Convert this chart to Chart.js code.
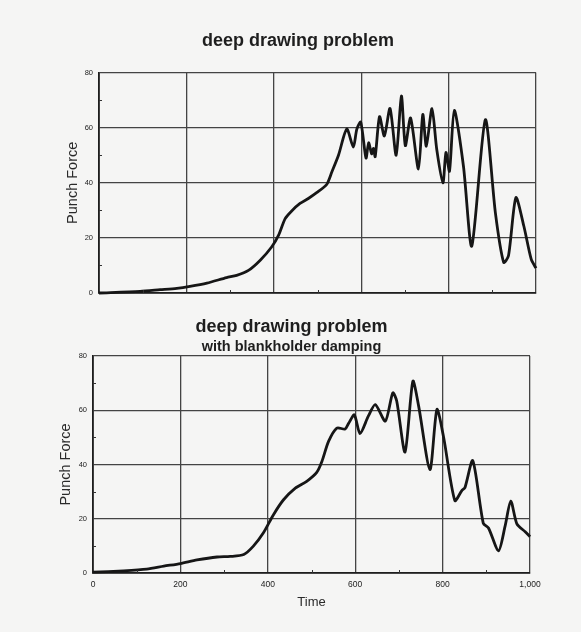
<!DOCTYPE html>
<html>
<head>
<meta charset="utf-8">
<script src="https://cdn.jsdelivr.net/npm/chart.js@4/dist/chart.umd.min.js"></script>
<style>
    body { margin: 0; background: #f5f5f4; }
    #wrap { position: relative; width: 581px; height: 632px; }
    canvas { position: absolute; left: 0; }
    #top { top: 0; }
    #bottom { top: 305px; }
</style>
</head>
<body>
<div id="wrap">
    <canvas id="top" width="581" height="305"></canvas>
    <canvas id="bottom" width="581" height="327"></canvas>
</div>
<script>
// punch force vs time
const topTime = [0, 94, 140, 178, 208, 247, 292, 315, 342, 369, 395, 411, 426, 441, 460, 479, 498, 521, 533, 548, 567, 582, 590, 599, 611, 617, 624, 628, 632, 642, 653, 666, 680, 692, 701, 713, 731, 741, 749, 762, 773, 787, 794, 802, 813, 834, 853, 884, 907, 926, 937, 954, 972, 989, 1000];
const topForce = [0, 0.6, 1.2, 1.7, 2.4, 3.6, 5.6, 6.4, 8.2, 11.9, 16.7, 21, 27, 29.8, 32.5, 34.3, 36.4, 39.4, 44, 50, 59.5, 53, 59.5, 62, 49, 54.5, 50.5, 52.5, 49.5, 64, 57, 67, 50, 71.5, 53.5, 63.5, 45, 64.8, 53.3, 66.9, 52, 40, 51, 44.2, 66.3, 46, 17, 62.9, 29.2, 11.1, 13.5, 34.6, 24.4, 12.3, 9];

const bottomTime = [0, 70, 123, 162, 200, 238, 284, 314, 345, 367, 390, 413, 436, 463, 489, 512, 524, 539, 558, 577, 585, 598, 611, 630, 646, 669, 686, 695, 714, 732, 745, 771, 787, 802, 828, 844, 851, 869, 893, 905, 928, 943, 956, 970, 989, 1000];
const bottomForce = [0.3, 0.8, 1.4, 2.5, 3.5, 4.8, 5.9, 6.1, 6.8, 9.9, 14.8, 21.5, 27, 31.3, 33.8, 37.1, 41.2, 48.5, 53.4, 53.1, 55.2, 58.3, 51.4, 57.8, 62.1, 56, 66.4, 63.4, 44.6, 70.7, 61.7, 38.1, 60.3, 50.3, 26.7, 30.4, 31.4, 41.4, 18.4, 16.6, 8.2, 17.3, 26.5, 18.1, 15.2, 13.4];

const mainTitle = "deep drawing problem";
const subTitle = "with blankholder damping";
const yTitle = "Punch Force";
const xTitle = "Time";

const minorX = [100, 300, 500, 700, 900];
const minorY = [10, 30, 50, 70];

const ink = "#161616";
const gridInk = "#444";

const minorTicks = {
    id: "minorTicks",
    afterDraw(chart) {
        const { ctx, chartArea, scales } = chart;
        ctx.save();
        ctx.strokeStyle = "#333";
        ctx.lineWidth = 1;
        ctx.beginPath();
        minorY.forEach((v) => {
            const py = Math.round(scales.y.getPixelForValue(v)) + 0.5;
            ctx.moveTo(chartArea.left, py);
            ctx.lineTo(chartArea.left + 3, py);
        });
        minorX.forEach((v) => {
            const px = Math.round(scales.x.getPixelForValue(v)) + 0.5;
            ctx.moveTo(px, chartArea.bottom);
            ctx.lineTo(px, chartArea.bottom - 3);
        });
        ctx.stroke();
        ctx.restore();
    },
};

function makePoints(xs, ys) {
    return xs.map((x, i) => ({ x: x, y: ys[i] }));
}

function buildChart(id, xs, ys, opts) {
    const ctx = document.getElementById(id).getContext("2d");
    return new Chart(ctx, {
        type: "line",
        data: {
            datasets: [
                {
                    data: makePoints(xs, ys),
                    borderColor: ink,
                    borderWidth: 2.8,
                    pointRadius: 0,
                    tension: 0.25,
                    fill: false,
                    clip: 4,
                },
            ],
        },
        options: {
            responsive: false,
            animation: false,
            layout: { padding: opts.padding },
            plugins: {
                legend: { display: false },
                tooltip: { enabled: false },
                title: {
                    display: true,
                    text: mainTitle,
                    color: "#1e1e1e",
                    font: { family: "Liberation Sans", size: 18, weight: "bold" },
                    padding: opts.titlePadding,
                },
                subtitle: {
                    display: !!opts.subtitle,
                    text: opts.subtitle || "",
                    color: "#1e1e1e",
                    font: { family: "Liberation Sans", size: 14.5, weight: "bold" },
                    padding: { top: 0.5, bottom: 0.5 },
                },
            },
            scales: {
                x: {
                    type: "linear",
                    min: 0,
                    max: 1000,
                    ticks: {
                        stepSize: 200,
                        display: opts.showX,
                        padding: 7,
                        color: "#222",
                        font: { family: "Liberation Sans", size: 8.5 },
                    },
                    grid: { color: gridInk, lineWidth: 1.3, drawTicks: false },
                    border: { color: "#1e1e1e", width: 1.8 },
                    title: {
                        display: opts.showX,
                        text: xTitle,
                        color: "#2a2a2a",
                        font: { family: "Liberation Sans", size: 13 },
                        padding: { top: 4, bottom: 4 },
                    },
                    afterFit: (s) => {
                        s.height = opts.xHeight;
                    },
                },
                y: {
                    min: 0,
                    max: 80,
                    ticks: {
                        stepSize: 20,
                        padding: 6,
                        color: "#222",
                        font: { family: "Liberation Sans", size: 7.5 },
                    },
                    grid: { color: gridInk, lineWidth: 1.3, drawTicks: false },
                    border: { color: "#1e1e1e", width: 1.8 },
                    title: {
                        display: true,
                        text: yTitle,
                        color: "#2a2a2a",
                        font: { family: "Liberation Sans", size: 14.5 },
                        padding: { top: 4, bottom: 4 },
                    },
                    afterFit: (s) => {
                        s.width = opts.yWidth;
                    },
                },
            },
        },
        plugins: [minorTicks],
    });
}

buildChart("top", topTime, topForce, {
    padding: { left: 60, right: 45, top: 0, bottom: 0 },
    titlePadding: { top: 30, bottom: 21 },
    showX: false,
    xHeight: 12,
    yWidth: 39,
});

buildChart("bottom", bottomTime, bottomForce, {
    padding: { left: 53, right: 51, top: 0, bottom: 18 },
    titlePadding: { top: 11, bottom: 0 },
    subtitle: subTitle,
    showX: true,
    xHeight: 41,
    yWidth: 40,
});
</script>
</body>
</html>
